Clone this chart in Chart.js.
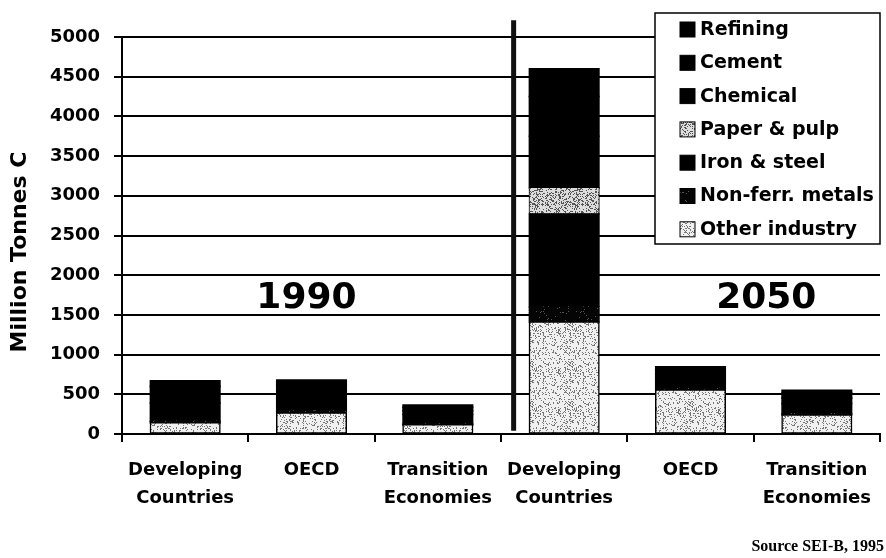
<!DOCTYPE html>
<html>
<head>
<meta charset="utf-8">
<title>Industrial carbon emissions 1990 / 2050</title>
<script src="https://cdn.jsdelivr.net/npm/chart.js@4.4.1/dist/chart.umd.min.js"></script>
<style>
  html, body { margin: 0; padding: 0; background: #fff; }
  #wrap { width: 886px; height: 558px; }
</style>
</head>
<body>
<div id="wrap"><canvas id="chart" width="886" height="558"></canvas></div>
<script>
// regions, first three for 1990, last three for 2050
const categories = [
    ['Developing', 'Countries'], ['OECD'], ['Transition', 'Economies'],
    ['Developing', 'Countries'], ['OECD'], ['Transition', 'Economies']
];
const yearLabels = ['1990', '2050'];

// Million tonnes C by sector
const otherIndustry = [140, 265, 115, 1410, 555, 240];
const nonFerrMetals = [20, 25, 10, 190, 20, 15];
const ironSteel     = [230, 150, 120, 1170, 110, 130];
const paperPulp     = [0, 0, 0, 330, 0, 0];
const chemical      = [110, 110, 50, 650, 70, 70];
const cement        = [100, 70, 40, 500, 50, 60];
const refining      = [70, 60, 30, 350, 40, 35];

const yTicks = [0, 500, 1000, 1500, 2000, 2500, 3000, 3500, 4000, 4500, 5000];

const FONT = '"DejaVu Sans", sans-serif';

// speckled grey fill, like old photocopied shading (fixed seed, same every run)
function stipple(bg, dot, share, seed) {
    const size = 40;
    const c = document.createElement('canvas');
    c.width = c.height = size;
    const g = c.getContext('2d');
    g.fillStyle = bg;
    g.fillRect(0, 0, size, size);
    g.fillStyle = dot;
    let s = seed;
    for (let i = 0; i < size; i++) {
        for (let j = 0; j < size; j++) {
            s = (s * 1103515245 + 12345) % 2147483648;
            if (s / 2147483648 < share) g.fillRect(i, j, 1, 1);
        }
    }
    return g.createPattern(c, 'repeat');
}

const fills = {
    other: stipple('#f0f0f0', '#777', 0.2, 7),
    paper: stipple('#dcdcdc', '#555', 0.3, 11),
    nonferr: stipple('#050505', '#555', 0.04, 3)
};

const series = [
    { label: 'Other industry', data: otherIndustry, backgroundColor: fills.other, borderWidth: 1.5 },
    { label: 'Non-ferr. metals', data: nonFerrMetals, backgroundColor: fills.nonferr, borderWidth: 0 },
    { label: 'Iron & steel', data: ironSteel, backgroundColor: '#000', borderWidth: 0 },
    { label: 'Paper & pulp', data: paperPulp, backgroundColor: fills.paper, borderWidth: 1 },
    { label: 'Chemical', data: chemical, backgroundColor: '#000', borderWidth: 0 },
    { label: 'Cement', data: cement, backgroundColor: '#000', borderWidth: 0 },
    { label: 'Refining', data: refining, backgroundColor: '#000', borderWidth: 0 }
];

// divider between the two years, period labels, boxed legend, y title, source
const decorations = {
    id: 'decorations',
    afterDatasetsDraw(chart) {
        const { ctx, scales: { x, y } } = chart;
        ctx.save();
        ctx.strokeStyle = '#111';
        ctx.lineWidth = 5;
        const dx = x.getPixelForValue(2.6);
        ctx.beginPath();
        ctx.moveTo(dx, y.getPixelForValue(5210));
        ctx.lineTo(dx, y.getPixelForValue(40));
        ctx.stroke();

        ctx.fillStyle = '#000';
        ctx.font = 'bold 36px ' + FONT;
        ctx.textAlign = 'center';
        ctx.textBaseline = 'middle';
        ctx.fillText(yearLabels[0], x.getPixelForValue(0.96), y.getPixelForValue(1700));
        ctx.fillText(yearLabels[1], x.getPixelForValue(4.6), y.getPixelForValue(1700));
        ctx.restore();
    },
    afterDraw(chart) {
        const { ctx, chartArea } = chart;
        ctx.save();

        // legend box, top sector first
        const bx = 655, by = 13, bw = chartArea.right - 655, bh = 231;
        ctx.fillStyle = '#fff';
        ctx.fillRect(bx, by, bw, bh);
        ctx.strokeStyle = '#000';
        ctx.lineWidth = 1.5;
        ctx.strokeRect(bx, by, bw, bh);
        ctx.font = 'bold 19px ' + FONT;
        ctx.textAlign = 'left';
        ctx.textBaseline = 'middle';
        const items = chart.data.datasets.slice().reverse();
        items.forEach((ds, i) => {
            const cy = 29 + i * 33.3;
            ctx.fillStyle = ds.backgroundColor;
            ctx.fillRect(680, cy - 7, 15, 15);
            ctx.lineWidth = 1;
            ctx.strokeRect(680, cy - 7, 15, 15);
            ctx.fillStyle = '#000';
            ctx.fillText(ds.label, 700, cy + 1);
        });

        // y axis title
        ctx.save();
        ctx.translate(20, 252);
        ctx.rotate(-Math.PI / 2);
        ctx.font = 'bold 22px ' + FONT;
        ctx.textAlign = 'center';
        ctx.textBaseline = 'middle';
        ctx.fillText('Million Tonnes C', 0, 0);
        ctx.restore();

        ctx.font = 'bold 16px "Liberation Serif", serif';
        ctx.textAlign = 'right';
        ctx.textBaseline = 'alphabetic';
        ctx.fillText('Source SEI-B, 1995', 884, 551);
        ctx.restore();
    }
};

new Chart(document.getElementById('chart'), {
    type: 'bar',
    data: {
        labels: categories,
        datasets: series.map(s => ({
            ...s,
            borderColor: '#000',
            borderSkipped: false,
            inflateAmount: 0.8,
            categoryPercentage: 1,
            barPercentage: 0.55
        }))
    },
    options: {
        responsive: false,
        animation: false,
        devicePixelRatio: 1,
        layout: { padding: { top: 37, right: 6, left: 0, bottom: 0 } },
        plugins: {
            legend: { display: false },
            tooltip: { enabled: false }
        },
        scales: {
            x: {
                stacked: true,
                grid: { offset: true, drawOnChartArea: false, color: '#000', lineWidth: 2, tickLength: 8 },
                border: { color: '#000', width: 2 },
                ticks: {
                    color: '#000', padding: 14, maxRotation: 0, autoSkip: false,
                    font: { family: FONT, size: 18, weight: 'bold', lineHeight: 1.55 }
                },
                afterFit(scale) { scale.height = 124; }
            },
            y: {
                stacked: true,
                min: 0,
                max: 5000,
                afterBuildTicks(scale) { scale.ticks = yTicks.map(v => ({ value: v })); },
                grid: { color: '#000', lineWidth: 2, tickLength: 8 },
                border: { color: '#000', width: 2 },
                ticks: {
                    color: '#000', padding: 14,
                    callback: v => String(v),
                    font: { family: FONT, size: 18, weight: 'bold' }
                },
                afterFit(scale) { scale.width = 122; }
            }
        }
    },
    plugins: [decorations]
});
</script>
</body>
</html>
